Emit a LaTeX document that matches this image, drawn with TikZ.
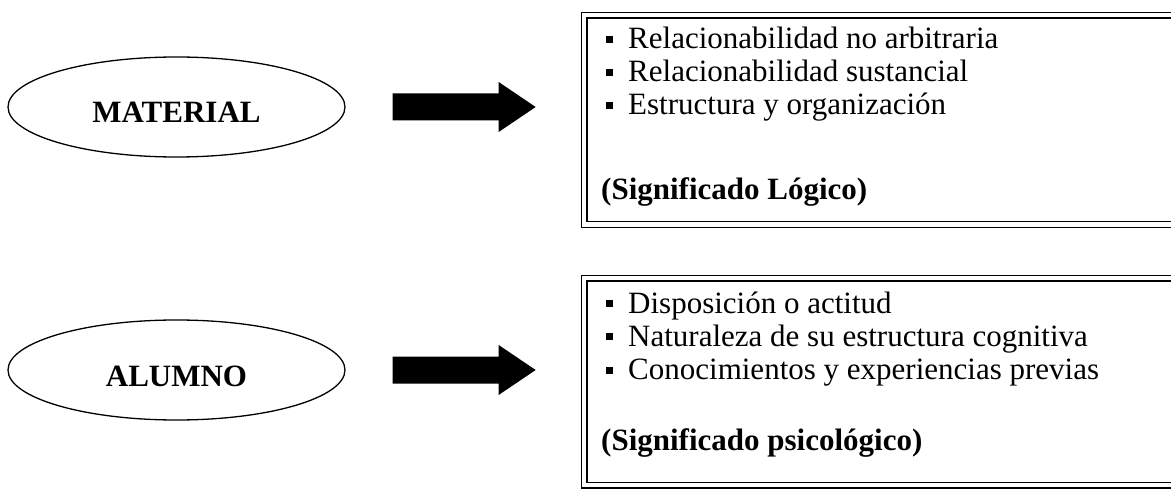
\documentclass[tikz,border=0pt]{standalone}
\usepackage{fontspec}
\setmainfont{Liberation Serif}
\usetikzlibrary{shapes.geometric,calc}
\tikzset{
  oval/.style={ellipse, draw, line width=1.3pt, minimum width=337pt, minimum height=100pt,
    inner sep=0pt, text height=32pt, text depth=0pt, font=\fontsize{31}{31}\selectfont\bfseries},
  blockarrow/.style={fill=black},
  framebox/.style={draw, double, double distance=4.5pt, line width=1.4pt, inner sep=0pt,
    anchor=north west},
  itemtext/.style={anchor=base west, inner sep=0pt, font=\fontsize{31}{31}\selectfont},
  headtext/.style={anchor=base west, inner sep=0pt, font=\fontsize{31}{31}\selectfont\bfseries},
  bul/.style={fill=black, minimum size=7pt, inner sep=0pt},
}
\begin{document}
\begin{tikzpicture}[x=1pt,y=-1pt]
\useasboundingbox (0,0) rectangle (1171,489);
\clip (0,0) rectangle (1171,489);
% ellipses
\node[oval] (mat) at (176.5,107) {MATERIAL};
\node[oval] (alu) at (176.5,370) {ALUMNO};
% boxes
\node[framebox, minimum width=592pt, minimum height=209.5pt] (b1) at (583.5,14.5) {};
\node[framebox, minimum width=592pt, minimum height=207pt] (b2) at (583.5,277.5) {};
% block arrows
\fill[blockarrow] ($(mat.east)+(47,-13.5)$) -- ++(106,0) -- ++(0,-11.5) -- ++(37,25)
  -- ++(-37,25) -- ++(0,-11.5) -- ++(-106,0) -- cycle;
\fill[blockarrow] ($(alu.east)+(47,-13.5)$) -- ++(106,0) -- ++(0,-11.5) -- ++(37,25)
  -- ++(-37,25) -- ++(0,-11.5) -- ++(-106,0) -- cycle;
% box 1 text
\node[bul] (p1) at (609,40) {};
\node[itemtext] (t1) at (628,49) {Relacionabilidad no arbitraria};
\node[bul] (p2) at (609,73) {};
\node[itemtext] (t2) at (628,82) {Relacionabilidad sustancial};
\node[bul] (p3) at (609,106) {};
\node[itemtext] (t3) at (628,115) {Estructura y organización};
\node[headtext] (h1) at (601,200) {(Significado Lógico)};
% box 2 text
\node[bul] (p4) at (609,304) {};
\node[itemtext] (t4) at (628,313) {Disposición o actitud};
\node[bul] (p5) at (609,337) {};
\node[itemtext] (t5) at (628,346) {Naturaleza de su estructura cognitiva};
\node[bul] (p6) at (609,370) {};
\node[itemtext] (t6) at (628,379) {Conocimientos y experiencias previas};
\node[headtext] (h2) at (601,450) {(Significado psicológico)};
\end{tikzpicture}
\end{document}
